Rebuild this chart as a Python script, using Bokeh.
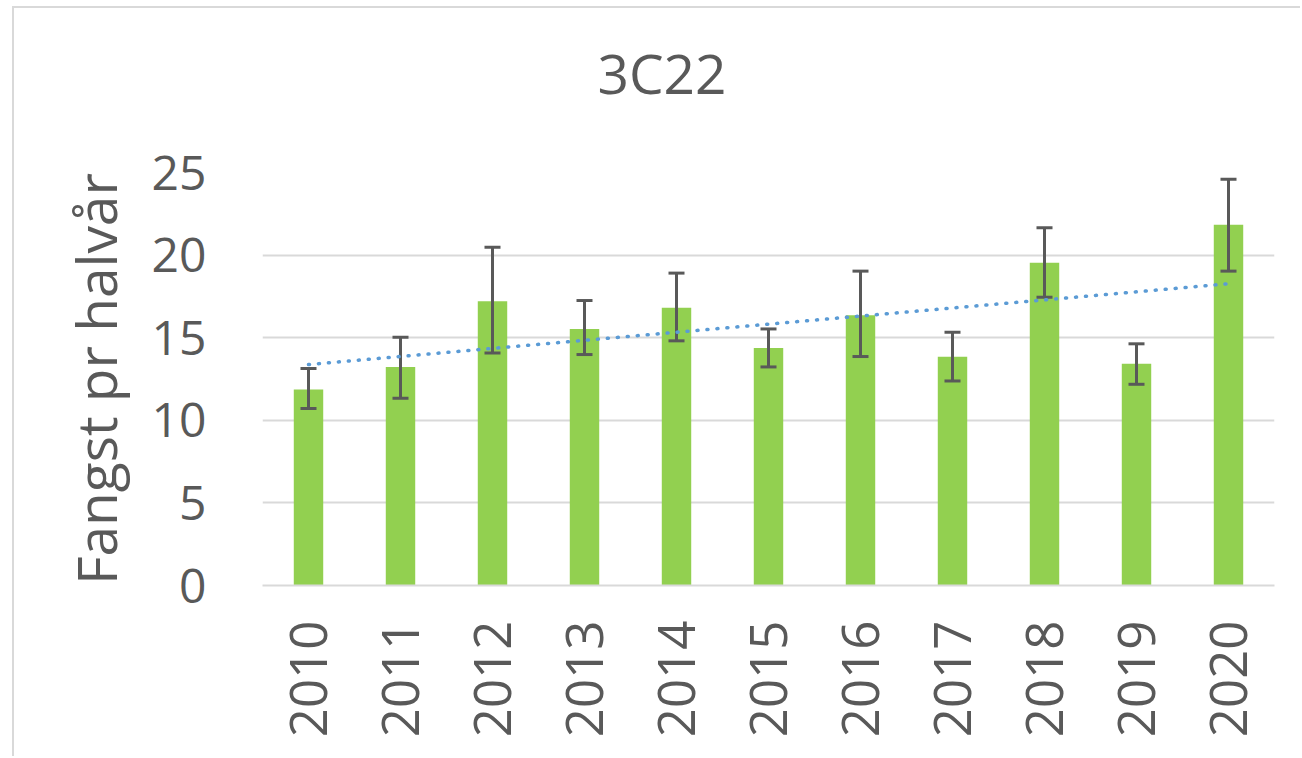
import numpy as np
from bokeh.plotting import figure
from bokeh.models import ColumnDataSource, Whisker, TeeHead, FactorRange, SingleIntervalTicker, Title
from bokeh.embed import file_html
from bokeh.resources import INLINE

years = ["2010", "2011", "2012", "2013", "2014", "2015", "2016", "2017", "2018", "2019", "2020"]
catch = [11.86, 13.23, 17.21, 15.53, 16.81, 14.38, 16.36, 13.84, 19.54, 13.43, 21.84]
err_upper = [13.13, 15.03, 20.48, 17.25, 18.91, 15.53, 19.03, 15.33, 21.66, 14.63, 24.59]
err_lower = [10.71, 11.33, 14.08, 13.98, 14.81, 13.23, 13.86, 12.38, 17.45, 12.18, 19.03]
title_text = "3C22"

FONT = "Open Sans"
TXT = "#595959"

p = figure(x_range=FactorRange(*years, range_padding=0), y_range=(0, 25),
           width=1288, height=750, output_backend="svg", toolbar_location=None,
           min_border_left=248, min_border_right=28, min_border_top=164, min_border_bottom=173)
p.styles = {"border-left": "2px solid #d9d9d9", "border-top": "2px solid #d9d9d9",
            "margin-left": "12px", "margin-top": "6px"}
p.outline_line_color = None
p.background_fill_color = "white"
p.border_fill_color = "white"

# spacer between the frame and the title (nearest to frame)
p.add_layout(Title(text=" ", text_font_size="1px", standoff=60), "above")
# the visible title
p.add_layout(Title(text=title_text, align="left", offset=335, standoff=0,
                   text_font=FONT, text_font_size="55px", text_font_style="normal",
                   text_color=TXT), "above")

src = ColumnDataSource(dict(x=years, y=catch, up=err_upper, lo=err_lower))
p.vbar(x="x", top="y", width=0.32, source=src, fill_color="#92d050", line_color=None)

w = Whisker(base="x", upper="up", lower="lo", source=src, line_color="#595959", line_width=3,
            upper_head=TeeHead(size=16, line_color="#595959", line_width=3),
            lower_head=TeeHead(size=16, line_color="#595959", line_width=3))
w.level = "annotation"
p.add_layout(w)

xi = np.arange(len(years))
slope, icpt = np.polyfit(xi, np.array(catch), 1)
trend = [icpt + slope * i for i in xi]
p.line(x=years, y=trend, line_color="#5b9bd5", line_width=3.5, line_dash="1 9",
       line_cap="round", level="overlay")

p.yaxis.ticker = SingleIntervalTicker(interval=5)
p.ygrid.grid_line_color = "#d9d9d9"
p.ygrid.grid_line_width = 2
p.xgrid.grid_line_color = None

p.yaxis.axis_line_color = None
p.yaxis.major_tick_line_color = None
p.yaxis.minor_tick_line_color = None
p.yaxis.major_label_text_font = FONT
p.yaxis.major_label_text_font_size = "48px"
p.yaxis.major_label_text_color = TXT
p.yaxis.major_label_standoff = 50
p.yaxis.axis_label = "Fangst pr halvår"
p.yaxis.axis_label_text_font = FONT
p.yaxis.axis_label_text_font_size = "55px"
p.yaxis.axis_label_text_font_style = "normal"
p.yaxis.axis_label_text_color = TXT
p.yaxis.axis_label_standoff = 16

p.xaxis.axis_line_color = "#d9d9d9"
p.xaxis.axis_line_width = 2
p.xaxis.major_tick_line_color = None
p.xaxis.minor_tick_line_color = None
p.xaxis.major_label_orientation = np.pi / 2
p.xaxis.major_label_text_font = FONT
p.xaxis.major_label_text_font_size = "51px"
p.xaxis.major_label_text_color = TXT
p.xaxis.major_label_standoff = 29

open("out.html", "w").write(file_html(p, INLINE))
